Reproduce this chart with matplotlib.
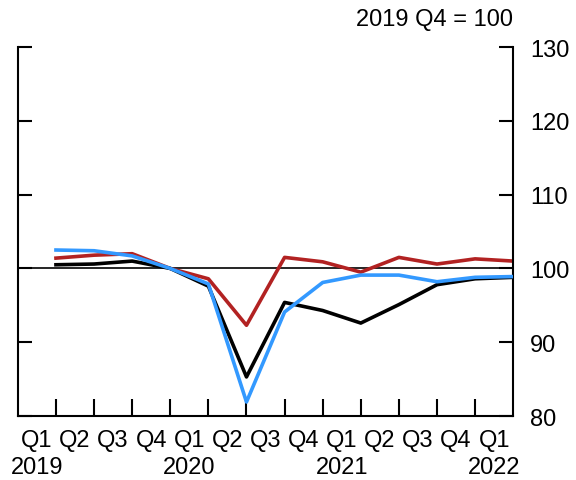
import matplotlib
matplotlib.use("Agg")
import matplotlib.pyplot as plt
import matplotlib.transforms as mtransforms
import numpy as np

plt.rcParams['font.family'] = ['Liberation Sans', 'DejaVu Sans']

quarters = ["Q1", "Q2", "Q3", "Q4", "Q1", "Q2", "Q3", "Q4", "Q1", "Q2", "Q3", "Q4", "Q1"]
years = ["2019", "", "", "", "2020", "", "", "", "2021", "", "", "", "2022"]

black = [100.5, 100.6, 101.0, 100.0, 97.6, 85.3, 95.4, 94.3, 92.6, 95.1, 97.8, 98.6, 98.8]
red = [101.4, 101.8, 102.0, 100.0, 98.6, 92.3, 101.5, 100.9, 99.5, 101.5, 100.6, 101.3, 101.0]
blue = [102.5, 102.4, 101.7, 100.0, 97.9, 81.9, 94.1, 98.1, 99.1, 99.1, 98.2, 98.8, 98.9]

yticks = [80, 90, 100, 110, 120, 130]

fig = plt.figure(figsize=(5.76, 4.81), dpi=100)
ax = fig.add_axes([0.031, 0.133, 0.86, 0.767])

n = len(quarters)
xpts = np.arange(1, n + 1)

ax.axhline(100, color='black', lw=1.2, zorder=1)
ax.plot(xpts, black, color='black', lw=2.6, zorder=3)
ax.plot(xpts, red, color='#B22222', lw=2.6, zorder=2)
ax.plot(xpts, blue, color='#3399FF', lw=2.6, zorder=4)

ax.set_xlim(0, n)
ax.set_ylim(80, 130)

ax.spines['top'].set_visible(False)
for s in ['left', 'right', 'bottom']:
    ax.spines[s].set_linewidth(1.5)

ax.set_yticks(yticks)
ax.yaxis.set_ticks_position('both')
ax.tick_params(axis='y', direction='in', length=10, width=1.5, labelleft=False, labelright=True,
               labelsize=17, pad=12)

ax.set_xticks(np.arange(1, n))
ax.set_xticks(np.arange(n) + 0.5, minor=True)
ax.set_xticklabels([], minor=False)
ax.set_xticklabels(quarters, minor=True)
ax.tick_params(axis='x', which='major', direction='in', length=12, width=1.5)
ax.tick_params(axis='x', which='minor', length=0, labelsize=17, pad=9)

trans = mtransforms.blended_transform_factory(ax.transData, ax.transAxes)
for i, y in enumerate(years):
    if y:
        ax.annotate(y, xy=(i + 0.5, 0), xycoords=trans, xytext=(0, -37), textcoords='offset points',
                    ha='center', va='center', fontsize=17)

ax.text(1.0, 1.045, "2019 Q4 = 100", transform=ax.transAxes, ha='right', va='bottom', fontsize=17)

fig.savefig("out.png", dpi=100)
